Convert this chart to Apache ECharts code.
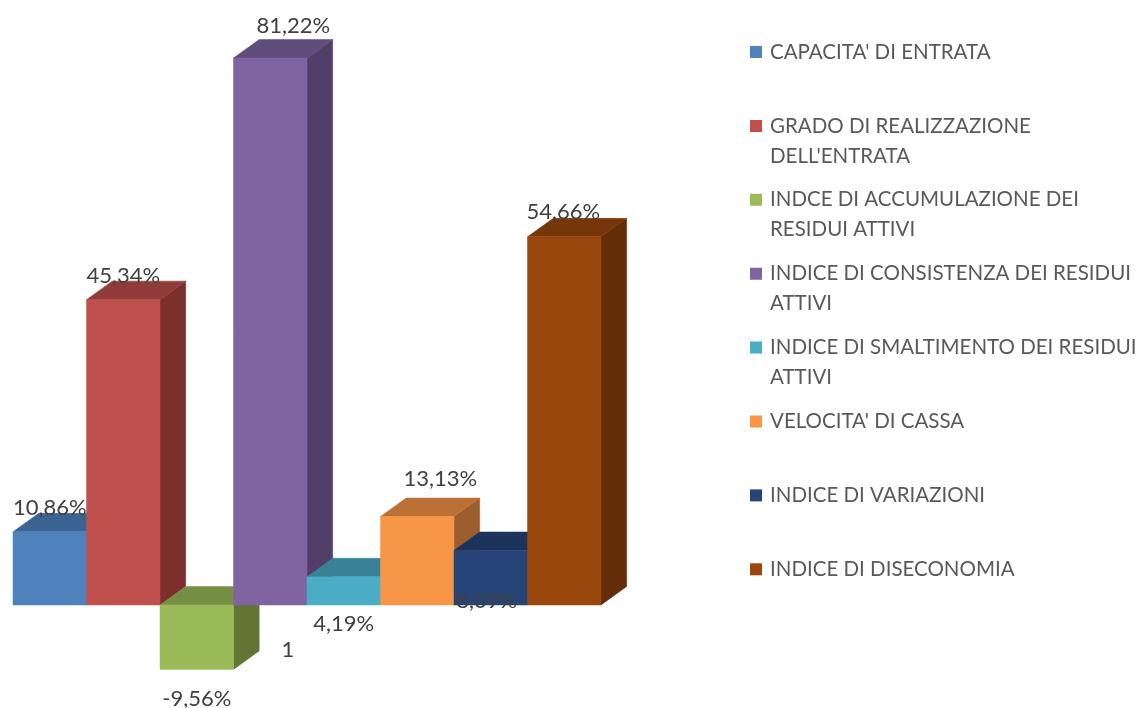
<!DOCTYPE html>
<html>
<head>
<meta charset="utf-8">
<title>Indici</title>
<style>
  html, body { margin: 0; padding: 0; background: #fff; }
  #chart { width: 1141px; height: 708px; }
</style>
<script src="https://cdn.jsdelivr.net/npm/echarts@6/dist/echarts.min.js"></script>
</head>
<body>
<div id="chart"></div>
<script>
const categories = ['1']
const seriesNames = [
  "CAPACITA' DI ENTRATA",
  "GRADO DI REALIZZAZIONE DELL'ENTRATA",
  'INDCE DI ACCUMULAZIONE DEI RESIDUI ATTIVI',
  'INDICE DI CONSISTENZA DEI RESIDUI ATTIVI',
  'INDICE DI SMALTIMENTO DEI RESIDUI ATTIVI',
  "VELOCITA' DI CASSA",
  'INDICE DI VARIAZIONI',
  'INDICE DI DISECONOMIA'
]
const legendLines = [
  "CAPACITA' DI ENTRATA",
  "GRADO DI REALIZZAZIONE\nDELL'ENTRATA",
  'INDCE DI ACCUMULAZIONE DEI\nRESIDUI ATTIVI',
  'INDICE DI CONSISTENZA DEI RESIDUI\nATTIVI',
  'INDICE DI SMALTIMENTO DEI RESIDUI\nATTIVI',
  "VELOCITA' DI CASSA",
  'INDICE DI VARIAZIONI',
  'INDICE DI DISECONOMIA'
]
const values = [10.86, 45.34, -9.56, 81.22, 4.19, 13.13, 8.09, 54.66]
const valueLabels = ['10,86%', '45,34%', '-9,56%', '81,22%', '4,19%', '13,13%', '8,09%', '54,66%']

// colori delle facce: fronte, sopra, lato
const frontColors = ['#4f81bd', '#c0504d', '#9bbb59', '#8064a2', '#4bacc6', '#f79646', '#264478', '#9a470d']
const topColors = ['#3a6491', '#8e3b39', '#758f45', '#614d7b', '#398296', '#bb7135', '#1c335b', '#75360a']
const sideColors = ['#30527a', '#7d2f2e', '#637535', '#523f69', '#306e80', '#9c5e2c', '#182b4d', '#632d08']

// spostamento delle etichette rispetto al centro della barra (come nell'originale, un po' a caso)
const labelNudge = [[0, -24], [0, -24], [0, 30], [23, -32], [0, 47], [23, -38], [-4, 50], [-1, -25]]

const depthX = 25.7
const depthY = 18.5
const fontName = 'Lato, "Open Sans", sans-serif'

const chart = echarts.init(document.getElementById('chart'))

const renderBar = (params, api) => {
  const i = params.seriesIndex
  const val = api.value(1)
  const center = api.coord([api.value(0), 0])
  const band = api.size([1, 0])[0]
  const barW = band / seriesNames.length
  const x0 = center[0] - band / 2 + barW * i
  const x1 = x0 + barW
  const yZero = center[1]
  const yVal = api.coord([api.value(0), val])[1]
  const yUp = Math.min(yZero, yVal)
  const yDown = Math.max(yZero, yVal)
  const face = (points, color, z2) => ({
    type: 'polygon',
    z2: z2,
    shape: { points: points },
    style: { fill: color, stroke: color, lineWidth: 0.5 }
  })
  return {
    type: 'group',
    children: [
      face([[x1, yUp], [x1 + depthX, yUp - depthY], [x1 + depthX, yDown - depthY], [x1, yDown]], sideColors[i], i * 3),
      face([[x0, yUp], [x0 + depthX, yUp - depthY], [x1 + depthX, yUp - depthY], [x1, yUp]], topColors[i], i * 3 + 1),
      face([[x0, yUp], [x1, yUp], [x1, yDown], [x0, yDown]], frontColors[i], i * 3 + 2),
      {
        type: 'text',
        z2: 100,
        style: {
          text: valueLabels[i],
          x: (x0 + x1) / 2 + labelNudge[i][0],
          y: yVal + labelNudge[i][1],
          align: 'center',
          verticalAlign: 'middle',
          fill: '#404040',
          font: '22px ' + fontName
        }
      }
    ]
  }
}

const legendCenterFirst = 52
const legendStep = 73.9

const option = {
  backgroundColor: '#fff',
  animation: false,
  legend: seriesNames.map((name, i) => {
    const twoLines = legendLines[i].includes('\n')
    return {
      left: 750,
      top: legendCenterFirst + i * legendStep - 15,
      padding: 0,
      orient: 'vertical',
      itemWidth: 12,
      itemHeight: twoLines ? 42 : 12,
      // quadrato in alto, cosi resta sulla prima riga del testo
      icon: twoLines ? 'path://M0 0H12V12H0Z M0 42L0 42Z' : 'rect',
      data: [name],
      formatter: () => legendLines[i],
      textStyle: {
        color: '#595959',
        fontFamily: fontName,
        fontSize: 20.5,
        lineHeight: 30,
        padding: [0, 0, 0, 3]
      }
    }
  }),
  grid: { left: 13, width: 588, top: 52.73, height: 619.62, outerBoundsMode: 'none' },
  xAxis: {
    type: 'category',
    data: categories,
    axisLine: { show: false },
    axisTick: { show: false },
    axisLabel: {
      inside: true,
      margin: 11,
      color: '#404040',
      fontFamily: fontName,
      fontSize: 22,
      padding: [0, 38, 0, 0]
    }
  },
  yAxis: { type: 'value', min: -10, max: 82, show: false, splitLine: { show: false } },
  series: seriesNames.map((name, i) => ({
    name: name,
    type: 'custom',
    renderItem: renderBar,
    encode: { x: 0, y: 1 },
    itemStyle: { color: frontColors[i] },
    data: [[0, values[i]]]
  }))
}

chart.setOption(option)
</script>
</body>
</html>
